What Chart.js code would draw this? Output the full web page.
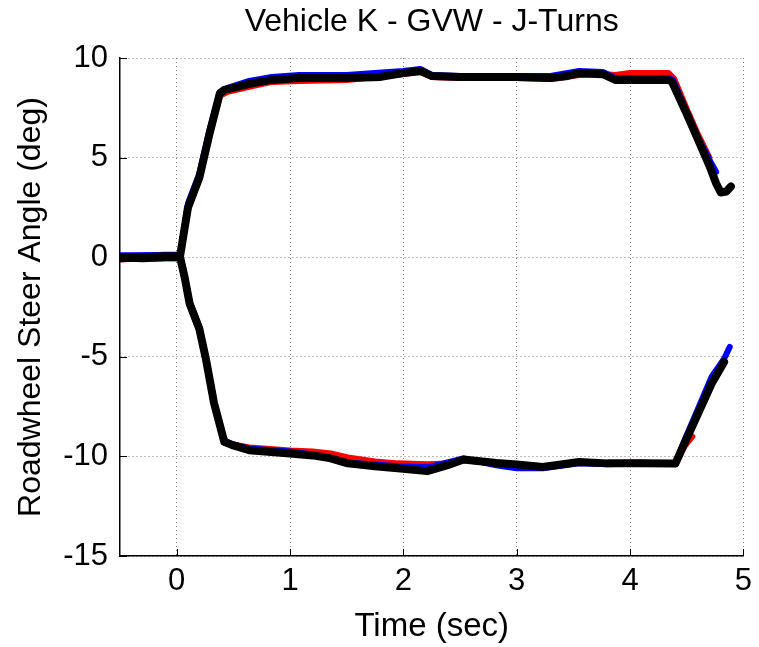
<!DOCTYPE html>
<html>
<head>
<meta charset="utf-8">
<script src="https://cdn.jsdelivr.net/npm/chart.js@4/dist/chart.umd.min.js"></script>
<style>
  body { margin: 0; background: #fff; }
  #wrap { width: 759px; height: 647px; }
</style>
</head>
<body>
<div id="wrap"><canvas id="myChart"></canvas></div>
<script>
// time (sec) and roadwheel steer angle (deg)
const tUpBlack = [-0.5,-0.3,-0.1,0.03,0.10,0.20,0.29,0.38,0.42,0.5,0.64,0.84,1.08,1.5,1.8,2.0,2.15,2.25,2.5,3.0,3.3,3.45,3.55,3.76,3.87,4.1,4.34,4.37,4.5,4.6,4.7,4.76,4.8,4.85,4.89]
const yUpBlack = [-0.05,0.0,0.05,0.05,2.5,4.0,6.2,8.2,8.4,8.5,8.7,8.9,9.0,9.0,9.05,9.25,9.35,9.1,9.05,9.05,9.0,9.1,9.24,9.19,8.9,8.9,8.9,8.8,7.2,5.9,4.6,3.7,3.25,3.3,3.55]
const tUpBlue = [-0.5,-0.1,0.03,0.10,0.20,0.29,0.38,0.45,0.64,0.84,1.08,1.5,2.0,2.15,2.25,2.5,3.0,3.3,3.55,3.76,3.87,4.34,4.38,4.5,4.6,4.7,4.76]
const yUpBlue = [0.05,0.12,0.12,2.7,4.2,6.4,8.3,8.5,8.85,9.05,9.15,9.15,9.35,9.45,9.15,9.1,9.1,9.1,9.35,9.3,9.0,9.0,8.9,7.3,6.0,4.9,4.28]
const tUpRed = [-0.5,-0.1,0.03,0.10,0.20,0.29,0.38,0.45,0.64,0.84,1.08,1.5,2.0,2.15,2.25,2.5,3.0,3.3,3.55,3.76,3.87,4.0,4.34,4.39,4.5,4.6,4.7]
const yUpRed = [-0.1,0.0,0.0,2.4,3.9,6.1,8.1,8.3,8.55,8.8,8.85,8.9,9.2,9.3,9.05,9.0,9.0,8.95,9.15,9.2,9.15,9.25,9.25,8.95,7.45,6.15,5.0]

const tLoBlack = [-0.5,-0.3,-0.1,0.03,0.07,0.114,0.16,0.20,0.26,0.33,0.42,0.5,0.64,1.0,1.2,1.36,1.51,1.75,1.95,2.21,2.39,2.53,2.82,3.0,3.23,3.55,3.8,4.1,4.40,4.48,4.60,4.72,4.83]
const yLoBlack = [0.0,-0.05,0.0,0.0,-1.0,-2.33,-3.0,-3.6,-5.17,-7.33,-9.27,-9.45,-9.69,-9.85,-9.95,-10.1,-10.35,-10.5,-10.6,-10.74,-10.44,-10.16,-10.33,-10.4,-10.53,-10.28,-10.35,-10.35,-10.36,-9.35,-7.85,-6.34,-5.26]
const tLoBlue = [-0.5,-0.1,0.03,0.07,0.114,0.16,0.20,0.26,0.33,0.42,0.5,0.64,1.0,1.2,1.36,1.51,1.75,1.95,2.21,2.39,2.53,2.82,3.0,3.23,3.55,3.8,4.1,4.40,4.48,4.60,4.72,4.83,4.88]
const yLoBlue = [0.1,0.1,0.1,-0.9,-2.2,-2.9,-3.5,-5.1,-7.25,-9.2,-9.4,-9.6,-9.75,-9.9,-10.1,-10.3,-10.4,-10.5,-10.55,-10.3,-10.1,-10.45,-10.6,-10.6,-10.35,-10.4,-10.35,-10.36,-9.2,-7.6,-6.0,-5.1,-4.5]
const tLoRed = [-0.5,-0.1,0.03,0.07,0.114,0.16,0.20,0.26,0.33,0.42,0.5,0.64,1.0,1.2,1.36,1.51,1.75,1.95,2.21,2.39,2.53,2.82,3.0,3.23,3.55,3.8,4.1,4.40,4.48,4.55]
const yLoRed = [-0.1,-0.05,-0.05,-1.1,-2.4,-3.1,-3.7,-5.25,-7.4,-9.3,-9.4,-9.55,-9.7,-9.75,-9.85,-10.05,-10.25,-10.35,-10.4,-10.35,-10.2,-10.35,-10.4,-10.5,-10.3,-10.35,-10.3,-10.4,-9.5,-9.0]

const xTicks = [0,1,2,3,4,5]
const yTicks = [-15,-10,-5,0,5,10]

const pts = (t, y) => t.map((v, i) => ({x: v, y: y[i]}))

const traces = [
  {data: pts(tUpBlack, yUpBlack), color: 'black', w: 8},
  {data: pts(tLoBlack, yLoBlack), color: 'black', w: 8},
  {data: pts(tUpBlue, yUpBlue), color: 'blue', w: 6},
  {data: pts(tLoBlue, yLoBlue), color: 'blue', w: 6},
  {data: pts(tUpRed, yUpRed), color: 'red', w: 6},
  {data: pts(tLoRed, yLoRed), color: 'red', w: 6},
]

const datasets = traces.map(tr => ({
  data: tr.data,
  borderColor: tr.color,
  borderWidth: tr.w,
  pointRadius: 0,
  tension: 0,
  fill: false,
  borderJoinStyle: 'round',
  borderCapStyle: 'round',
}))

// small inward tick marks like the original axes
const innerTicks = {
  id: 'innerTicks',
  afterDraw(chart) {
    const {ctx, chartArea, scales} = chart
    ctx.save()
    ctx.strokeStyle = 'black'
    ctx.lineWidth = 1
    ctx.beginPath()
    xTicks.forEach(v => {
      const px = Math.round(scales.x.getPixelForValue(v)) + 0.5
      ctx.moveTo(px, chartArea.bottom)
      ctx.lineTo(px, chartArea.bottom - 7)
    })
    yTicks.forEach(v => {
      const py = Math.round(scales.y.getPixelForValue(v)) + 0.5
      ctx.moveTo(chartArea.left, py)
      ctx.lineTo(chartArea.left + 7, py)
    })
    ctx.stroke()
    ctx.restore()
  }
}

const font = "'Liberation Sans', Arial, Helvetica, sans-serif"

new Chart(document.getElementById('myChart'), {
  type: 'line',
  data: {datasets},
  options: {
    responsive: true,
    maintainAspectRatio: false,
    animation: false,
    layout: {padding: {left: 0, right: 10, top: 0, bottom: 0}},
    plugins: {
      legend: {display: false},
      tooltip: {enabled: false},
      title: {
        display: true,
        fullSize: false,
        text: 'Vehicle K - GVW - J-Turns',
        color: 'black',
        font: {family: font, size: 32, weight: 'normal', lineHeight: 1.2},
        padding: {top: 2.8, bottom: 16.8},
      },
    },
    scales: {
      x: {
        type: 'linear',
        min: -0.5,
        max: 5,
        afterBuildTicks: s => { s.ticks = xTicks.map(v => ({value: v})) },
        afterFit: s => { s.height = 91 },
        grid: {color: '#7a7a7a', lineWidth: 1, drawTicks: false},
        border: {display: true, color: 'black', width: 1.5, dash: [1, 3]},
        ticks: {color: 'black', padding: 7, font: {family: font, size: 31}, maxRotation: 0},
        title: {display: true, text: 'Time (sec)', color: 'black', font: {family: font, size: 33}, padding: {top: 0, bottom: 0}},
      },
      y: {
        type: 'linear',
        min: -15,
        max: 10,
        afterBuildTicks: s => { s.ticks = yTicks.map(v => ({value: v})) },
        afterFit: s => { s.width = 120 },
        grid: {color: '#7a7a7a', lineWidth: 1, drawTicks: false},
        border: {display: true, color: 'black', width: 1.5, dash: [1, 3]},
        ticks: {color: 'black', padding: 12, font: {family: font, size: 31}},
        title: {display: true, text: 'Roadwheel Steer Angle (deg)', color: 'black', font: {family: font, size: 32}, padding: {top: 12, bottom: 0}},
      },
    },
  },
  plugins: [innerTicks],
})
</script>
</body>
</html>
